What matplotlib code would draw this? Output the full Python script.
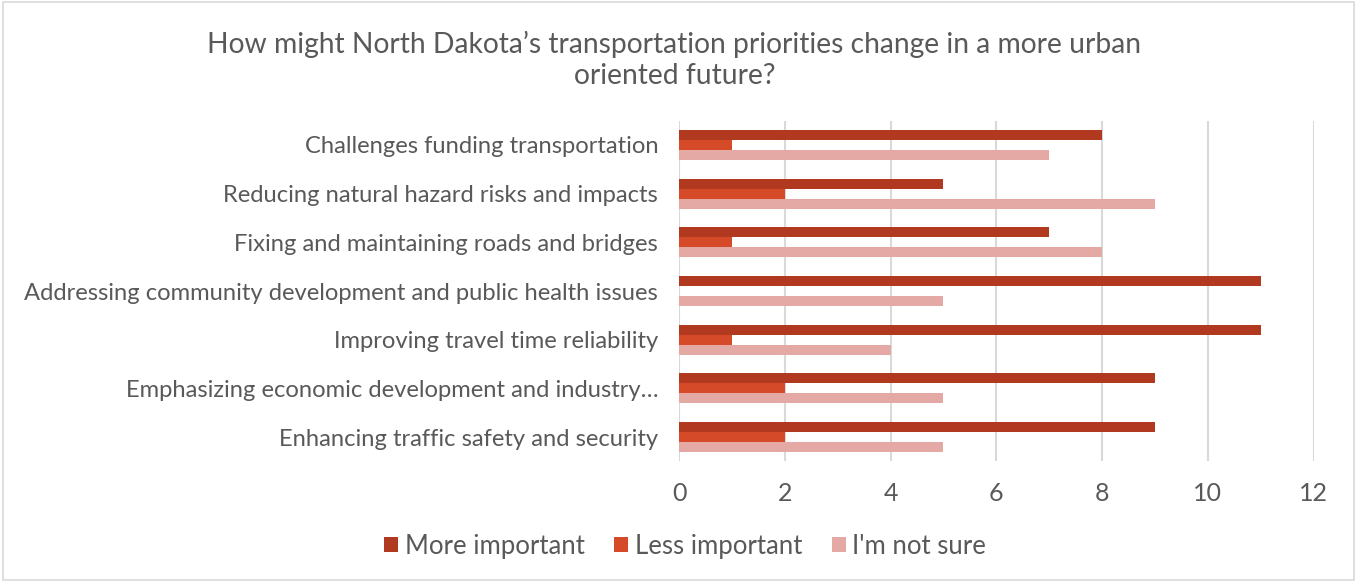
import numpy as np
import matplotlib.pyplot as plt
from matplotlib.patches import Rectangle

# Data (top to bottom as shown)
categories = [
    "Challenges funding transportation",
    "Reducing natural hazard risks and impacts",
    "Fixing and maintaining roads and bridges",
    "Addressing community development and public health issues",
    "Improving travel time reliability",
    "Emphasizing economic development and industry\u2026",
    "Enhancing traffic safety and security",
]
more_important = [8, 5, 7, 11, 11, 9, 9]
less_important = [1, 2, 1, 0, 1, 2, 2]
not_sure = [7, 9, 8, 5, 4, 5, 5]
series_names = ["More important", "Less important", "I'm not sure"]
colors = ["#B0391F", "#D54A28", "#E4A9A4"]

text_color = "#595959"
plt.rcParams['font.family'] = ['Lato', 'DejaVu Sans']

fig = plt.figure(figsize=(13.57, 5.81), dpi=100)
ax = fig.add_axes([0.5004, 0.2058, 0.4676, 0.5866])

y = np.arange(len(categories))
h = 0.205
for i, (vals, name, c) in enumerate(zip([more_important, less_important, not_sure], series_names, colors)):
    ax.barh(y + (i - 1) * h, vals, height=h, color=c, label=name, zorder=3)

ax.set_xlim(0, 12)
ax.set_ylim(len(categories) - 0.5, -0.5)
ax.set_xticks(range(0, 13, 2))
ax.set_yticks(y)
ax.set_yticklabels(categories, fontsize=17.1)
ax.tick_params(axis='both', length=0, colors=text_color)
ax.tick_params(axis='x', pad=15, labelsize=18)
ax.tick_params(axis='y', pad=15)
ax.grid(axis='x', color='#D9D9D9', linewidth=1.5, zorder=0)
for s in ax.spines.values():
    s.set_visible(False)

fig.text(0.497, 0.897, "How might North Dakota\u2019s transportation priorities change in a more urban\noriented future?",
         ha='center', va='center', fontsize=20.3, color=text_color, linespacing=1.2)

handles, labels = ax.get_legend_handles_labels()
leg = fig.legend(handles, labels, loc='center', bbox_to_anchor=(0.505, 0.06), ncol=3, frameon=False,
                 fontsize=18.5, handlelength=0.55, handleheight=0.55, handletextpad=0.25, columnspacing=1.15)
for t in leg.get_texts():
    t.set_color(text_color)

fig.patches.append(Rectangle((0.002, 0.002), 0.996, 0.994, transform=fig.transFigure,
                             fill=False, edgecolor='#D9D9D9', linewidth=1.2))

fig.savefig("out.png", dpi=100)
